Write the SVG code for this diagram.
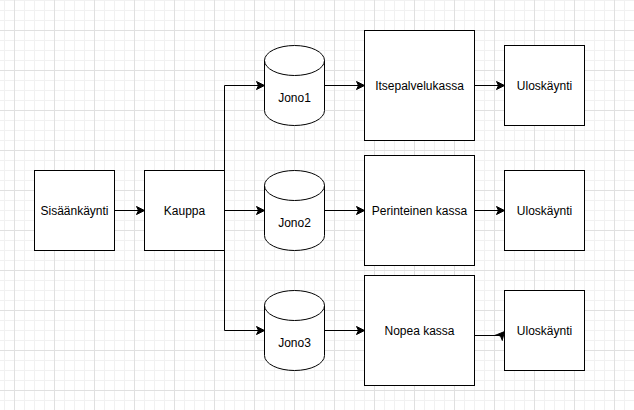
<svg xmlns="http://www.w3.org/2000/svg" width="634" height="410" viewBox="0 0 634 410">
  <defs>
    <pattern id="grid" patternUnits="userSpaceOnUse" x="14" y="30" width="40" height="40">
      <path d="M10.5,0 V40 M20.5,0 V40 M30.5,0 V40 M0,10.5 H40 M0,20.5 H40 M0,30.5 H40" stroke="#f1f1f1" stroke-width="1" fill="none"/>
      <path d="M0.5,0 V40 M0,0.5 H40" stroke="#e0e0e0" stroke-width="1" fill="none"/>
    </pattern>
    <marker id="arr" markerWidth="10" markerHeight="10" refX="9" refY="5" orient="auto" markerUnits="userSpaceOnUse">
      <path d="M1,1 L9,5 L1,9 L3,5 Z" fill="#000" stroke="#000" stroke-width="1"/>
    </marker>
    <style>
      .box { fill: #fff; stroke: #000; stroke-width: 1; }
      .cyl { fill: #fff; stroke: #000; stroke-width: 1; }
      .cylf { fill: none; stroke: #000; stroke-width: 1; }
      .lbl { font-family: "Liberation Sans", Arial, sans-serif; font-size: 12px; fill: #000; text-anchor: middle; }
      .edge { fill: none; stroke: #000; stroke-width: 1; marker-end: url(#arr); }
    </style>
  </defs>
  <rect x="0" y="0" width="634" height="410" fill="#fff"/>
  <rect x="0" y="0" width="634" height="410" fill="url(#grid)"/>

  <g id="connectors">
    <path class="edge" d="M114.5,210.5 H144.5"/>
    <path class="edge" d="M224.5,210.5 V85.5 H264.5"/>
    <path class="edge" d="M224.5,210.5 H264.5"/>
    <path class="edge" d="M224.5,210.5 V330.5 H264.5"/>
    <path class="edge" d="M324.5,85.5 H364.5"/>
    <path class="edge" d="M474.5,85.5 H504.5"/>
    <path class="edge" d="M324.5,210.5 H364.5"/>
    <path class="edge" d="M474.5,210.5 H504.5"/>
    <path class="edge" d="M324.5,330.5 H364.5"/>
    <path class="edge" d="M474.5,335.5 H501 L504.5,331.5"/>
  </g>

  <g id="sisaankaynti">
    <rect class="box" x="34.5" y="170.5" width="80" height="80"/>
    <text class="lbl" x="74.5" y="214.5">Sisäänkäynti</text>
  </g>
  <g id="kauppa">
    <rect class="box" x="144.5" y="170.5" width="80" height="80"/>
    <text class="lbl" x="184.5" y="214.5">Kauppa</text>
  </g>

  <g id="jono1">
    <path class="cyl" d="M264.5,60.5 A30,15 0 0 1 324.5,60.5 V110.5 A30,15 0 0 1 264.5,110.5 Z"/>
    <path class="cylf" d="M264.5,60.5 A30,15 0 0 0 324.5,60.5"/>
    <text class="lbl" x="294.5" y="102">Jono1</text>
  </g>
  <g id="jono2">
    <path class="cyl" d="M264.5,185.5 A30,15 0 0 1 324.5,185.5 V235.5 A30,15 0 0 1 264.5,235.5 Z"/>
    <path class="cylf" d="M264.5,185.5 A30,15 0 0 0 324.5,185.5"/>
    <text class="lbl" x="294.5" y="227">Jono2</text>
  </g>
  <g id="jono3">
    <path class="cyl" d="M264.5,305.5 A30,15 0 0 1 324.5,305.5 V355.5 A30,15 0 0 1 264.5,355.5 Z"/>
    <path class="cylf" d="M264.5,305.5 A30,15 0 0 0 324.5,305.5"/>
    <text class="lbl" x="294.5" y="347">Jono3</text>
  </g>

  <g id="itsepalvelukassa">
    <rect class="box" x="364.5" y="30.5" width="110" height="110"/>
    <text class="lbl" x="419.5" y="89.5">Itsepalvelukassa</text>
  </g>
  <g id="perinteinen-kassa">
    <rect class="box" x="364.5" y="155.5" width="110" height="110"/>
    <text class="lbl" x="419.5" y="214.5">Perinteinen kassa</text>
  </g>
  <g id="nopea-kassa">
    <rect class="box" x="364.5" y="275.5" width="110" height="110"/>
    <text class="lbl" x="419.5" y="334.5">Nopea kassa</text>
  </g>

  <g id="uloskaynti1">
    <rect class="box" x="504.5" y="45.5" width="80" height="80"/>
    <text class="lbl" x="544.5" y="89.5">Uloskäynti</text>
  </g>
  <g id="uloskaynti2">
    <rect class="box" x="504.5" y="170.5" width="80" height="80"/>
    <text class="lbl" x="544.5" y="214.5">Uloskäynti</text>
  </g>
  <g id="uloskaynti3">
    <rect class="box" x="504.5" y="290.5" width="80" height="80"/>
    <text class="lbl" x="544.5" y="334.5">Uloskäynti</text>
  </g>
</svg>
